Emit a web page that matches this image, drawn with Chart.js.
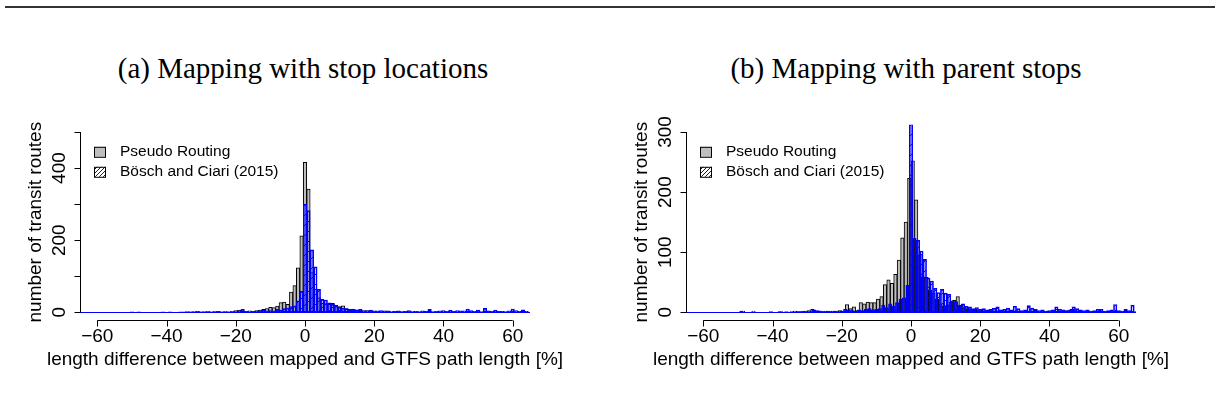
<!DOCTYPE html>
<html>
<head>
<meta charset="utf-8">
<script src="https://cdn.jsdelivr.net/npm/chart.js@4"></script>
<style>
  body { margin: 0; width: 1215px; height: 419px; background: #fff; position: relative; overflow: hidden; }
  .rule { position: absolute; left: 5px; right: 0; top: 6px; height: 2px; background: #333; }
  .title { position: absolute; top: 52px; font-family: "Liberation Serif", "Times New Roman", serif; font-size: 29px;
           color: #000; white-space: nowrap; transform: translateX(-50%); }
  canvas { position: absolute; top: 0; }
</style>
</head>
<body>
<div class="rule"></div>
<div class="title" style="left:303px">(a) Mapping with stop locations</div>
<div class="title" style="left:906px">(b) Mapping with parent stops</div>
<canvas id="chartA" width="600" height="419" style="left:0"></canvas>
<canvas id="chartB" width="600" height="419" style="left:606px"></canvas>
<script>
// bin centres (1 % wide bins)
const binsInt = Array.from({length: 129}, (_, i) => i - 64);      // -64 .. 64
const binsHalf = Array.from({length: 130}, (_, i) => i - 64.5);   // -64.5 .. 64.5

const seriesNames = ['Pseudo Routing', 'Bösch and Ciari (2015)'];

// (a) mapping with stop locations, counts per bin, k = -64 .. 64
const pseudoA = [
  0,0,0,0,0,0,0,0,0,0,
  0,0,0,0,1,0,0,0,0,0,
  0,0,0,0,0,1,0,0,0,1,
  2,1,1,2,1,2,2,1,2,2,
  1,2,1,3,5,6,3,3,4,3,
  5,6,8,10,14,13,17,27,28,22,
  56,74,123,212,416,342,110,64,40,25,
  24,22,25,20,16,18,10,8,6,7,
  5,4,5,3,4,3,2,4,3,2,
  3,2,2,3,1,2,2,1,2,3,
  2,1,2,1,2,1,1,2,1,3,
  1,2,3,1,2,1,1,2,1,1,
  2,1,1,2,1,1,2,1,1
];
const boeschA = [
  0,0,0,0,0,0,0,0,0,0,
  0,0,0,0,0,0,1,0,0,0,
  0,0,0,1,0,0,0,0,1,0,
  1,1,2,3,1,1,2,1,2,3,
  1,2,1,2,2,4,8,3,2,3,
  3,4,6,4,5,4,8,6,10,12,
  16,18,32,58,300,282,173,126,64,36,
  34,26,22,18,14,12,10,8,9,6,
  8,5,4,6,3,4,5,3,4,2,
  3,4,2,3,5,2,3,2,4,3,
  8,2,3,4,5,3,6,3,5,4,
  4,9,5,3,6,2,11,4,3,6,
  3,3,2,4,9,5,3,7,3
];

// (b) mapping with parent stops; pseudo routing bins run -65..65 on integer edges
const pseudoB = [
  0,0,0,0,0,0,0,0,0,0,
  0,0,0,0,0,0,2,0,0,2,
  0,0,0,0,1,0,0,1,0,0,
  1,2,1,1,2,3,5,2,2,1,
  2,1,2,2,3,2,13,6,9,3,
  16,14,17,16,16,22,26,46,54,48,
  63,87,124,150,223,252,187,95,59,58,
  37,32,22,14,10,12,17,20,26,12,
  8,6,5,4,3,3,2,3,2,2,
  3,2,1,2,2,1,2,1,2,1,
  1,2,1,1,2,1,1,2,1,2,
  3,5,3,2,1,1,2,1,1,2,
  1,1,2,1,1,2,1,1,2,1
];
const boeschB = [
  0,0,0,0,0,0,0,0,0,0,
  0,0,0,0,0,2,0,0,0,0,
  0,0,0,0,0,0,1,0,1,0,
  0,1,1,2,1,1,4,3,2,1,
  2,1,2,1,2,5,4,3,2,4,
  3,5,6,4,5,6,12,8,14,10,
  16,22,24,45,340,123,120,102,88,57,
  52,40,33,38,32,30,19,18,12,14,
  10,9,6,8,5,6,4,5,7,9,
  4,5,7,4,10,6,3,4,11,7,
  5,3,4,2,3,4,9,5,4,3,
  4,9,6,4,3,4,2,3,5,5,
  2,3,4,13,3,2,5,3,12
];

const xTicks = [-60, -40, -20, 0, 20, 40, 60];
const yTicksA = [0, 100, 200, 300, 400, 500];
const yLabelsA = ['0', '', '200', '', '400', ''];
const yTicksB = [0, 100, 200, 300];
const yLabelsB = ['0', '100', '200', '300'];

const xTitle = 'length difference between mapped and GTFS path length [%]';
const yTitle = 'number of transit routes';

function hatchPattern(step) {
  const c = document.createElement('canvas');
  c.width = step; c.height = step;
  const g = c.getContext('2d');
  g.strokeStyle = '#0000ff';
  g.lineWidth = 1;
  g.beginPath();
  g.moveTo(0, step); g.lineTo(step, 0);
  g.moveTo(-1, 1); g.lineTo(1, -1);
  g.moveTo(step - 1, step + 1); g.lineTo(step + 1, step - 1);
  g.stroke();
  return g.createPattern(c, 'repeat');
}
const hatch = hatchPattern(10);
const hatchLegend = hatchPattern(4);

const SANS = '"Liberation Sans", Arial, sans-serif';

// R-style axes, legend and zero line drawn through the chart's scales
const rStyle = {
  id: 'rStyle',
  afterDatasetsDraw(chart, args, opts) {
    const ctx = chart.ctx, area = chart.chartArea;
    const xs = chart.scales.x, ys = chart.scales.y;
    ctx.save();

    // zero line along the bins
    ctx.strokeStyle = '#0000ff';
    ctx.lineWidth = 1;
    const y0 = Math.round(ys.getPixelForValue(0)) + 0.5;
    ctx.beginPath();
    ctx.moveTo(xs.getPixelForValue(xs.min), y0);
    ctx.lineTo(xs.getPixelForValue(xs.max), y0);
    ctx.stroke();

    ctx.strokeStyle = '#000';
    ctx.fillStyle = '#000';

    // x axis
    const yb = Math.round(area.bottom) + 0.5;
    ctx.beginPath();
    ctx.moveTo(xs.getPixelForValue(xTicks[0]), yb);
    ctx.lineTo(xs.getPixelForValue(xTicks[xTicks.length - 1]), yb);
    xTicks.forEach(v => {
      const px = Math.round(xs.getPixelForValue(v)) + 0.5;
      ctx.moveTo(px, yb); ctx.lineTo(px, yb + 6);
    });
    ctx.stroke();
    ctx.font = '19px ' + SANS;
    ctx.textAlign = 'center';
    ctx.textBaseline = 'middle';
    xTicks.forEach(v => {
      const t = v < 0 ? '\u2212' + Math.abs(v) : String(v);
      ctx.fillText(t, xs.getPixelForValue(v), yb + 16);
    });
    ctx.fillText(xTitle, (area.left + area.right) / 2, yb + 39);

    // y axis
    const xl = Math.round(area.left) + 0.5;
    const yt = opts.yTicks;
    ctx.beginPath();
    ctx.moveTo(xl, ys.getPixelForValue(yt[0]));
    ctx.lineTo(xl, ys.getPixelForValue(yt[yt.length - 1]));
    yt.forEach(v => {
      const py = Math.round(ys.getPixelForValue(v)) + 0.5;
      ctx.moveTo(xl, py); ctx.lineTo(xl - 6, py);
    });
    ctx.stroke();
    yt.forEach((v, i) => {
      if (!opts.yLabels[i]) return;
      ctx.save();
      ctx.translate(xl - 21, ys.getPixelForValue(v));
      ctx.rotate(-Math.PI / 2);
      ctx.fillText(opts.yLabels[i], 0, 0);
      ctx.restore();
    });
    ctx.save();
    ctx.translate(xl - 45, (area.top + area.bottom) / 2);
    ctx.rotate(-Math.PI / 2);
    ctx.fillText(yTitle, 0, 0);
    ctx.restore();

    // legend
    ctx.font = '15.5px ' + SANS;
    ctx.textAlign = 'left';
    const lx = area.left + 14;
    const rows = [area.top + 27, area.top + 47];
    ctx.fillStyle = '#bebebe';
    ctx.fillRect(lx, rows[0] - 5, 12, 10);
    ctx.strokeRect(lx + 0.5, rows[0] - 4.5, 11, 10);
    ctx.fillStyle = hatchLegend;
    ctx.fillRect(lx, rows[1] - 5, 12, 10);
    ctx.strokeStyle = '#000';
    ctx.strokeRect(lx + 0.5, rows[1] - 4.5, 11, 10);
    ctx.fillStyle = '#000';
    ctx.fillText(seriesNames[0], area.left + 40, rows[0]);
    ctx.fillText(seriesNames[1], area.left + 40, rows[1]);

    ctx.restore();
  }
};

function makeChart(id, grayBins, gray, blueBins, blue, yMax, yTicks, yLabels) {
  const ctx = document.getElementById(id).getContext('2d');
  return new Chart(ctx, {
    type: 'bar',
    data: {
      datasets: [{
        label: seriesNames[0],
        data: grayBins.map((x, i) => ({x: x, y: gray[i]})),
        xAxisID: 'xg',
        backgroundColor: '#bebebe',
        borderColor: '#000',
        borderWidth: 1,
        borderSkipped: false,
        order: 2
      }, {
        label: seriesNames[1],
        data: blueBins.map((x, i) => ({x: x, y: blue[i]})),
        xAxisID: 'x',
        backgroundColor: hatch,
        borderColor: '#0000ff',
        borderWidth: 1,
        borderSkipped: false,
        order: 1
      }]
    },
    options: {
      responsive: false,
      animation: false,
      devicePixelRatio: 1,
      grouped: false,
      barPercentage: 1,
      categoryPercentage: 1,
      layout: { padding: { left: 80, right: 70, top: 124.8, bottom: 99.5 } },
      scales: {
        x: { type: 'linear', min: -65, max: 65, offset: false, display: false },
        xg: { type: 'linear', min: -65, max: 65, offset: false, display: false },
        y: { min: -yMax * 0.04, max: yMax * 1.04, display: false }
      },
      plugins: {
        legend: { display: false },
        tooltip: { enabled: false },
        rStyle: { yTicks: yTicks, yLabels: yLabels }
      }
    },
    plugins: [rStyle]
  });
}

makeChart('chartA', binsInt, pseudoA, binsInt, boeschA, 500, yTicksA, yLabelsA);
makeChart('chartB', binsHalf, pseudoB, binsInt, boeschB, 300, yTicksB, yLabelsB);
</script>
</body>
</html>
